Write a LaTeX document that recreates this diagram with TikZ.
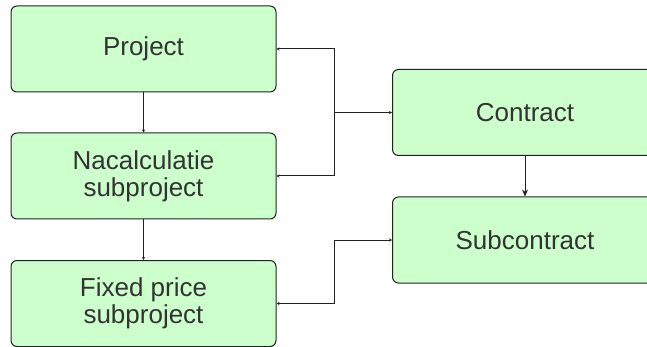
\documentclass[tikz,border=0pt]{standalone}
\usepackage{fontspec}
\setmainfont{Liberation Sans}
\usetikzlibrary{arrows.meta}
\definecolor{boxgreen}{HTML}{CCFFCC}
\definecolor{edge}{HTML}{222222}
\tikzset{
  box/.style={draw=edge, line width=1pt, fill=boxgreen, rounded corners=6pt,
    minimum width=265pt, minimum height=86pt, inner sep=0pt, align=center,
    font=\fontsize{26}{27}\selectfont, text=black!80},
  conn/.style={draw=edge, line width=1pt},
  tip/.style={-{Stealth[length=7pt,width=6pt]}},
  smalltip/.style={-{Stealth[length=3pt,width=3pt]}}
}
\begin{document}
\begin{tikzpicture}[x=1pt,y=-1pt]
\useasboundingbox (0,0) rectangle (647,347);
\begin{scope}
\clip (0,0) rectangle (647,347);
\node[box] (proj) at (143.5,49) {Project};
\node[box] (nac) at (143.5,176) {Nacalculatie\\subproject};
\node[box] (fix) at (143.5,303.5) {Fixed price\\subproject};
\node[box] (con) at (525,112.5) {Contract};
\node[box] (sub) at (525,240) {Subcontract};
\coordinate (j1) at (334,112.5);
\coordinate (j2) at (334,240);
\draw[conn,smalltip] (proj.south) -- (nac.north);
\draw[conn,smalltip] (nac.south) -- (fix.north);
\draw[conn,tip] (con.south) -- (sub.north);
\draw[conn,smalltip] (j1) -- (con.west);
\draw[conn,smalltip] (j1) |- (proj.east);
\draw[conn,smalltip] (j1) |- (nac.east);
\draw[conn,smalltip] (j2) -- (sub.west);
\draw[conn,smalltip] (j2) |- (fix.east);
\end{scope}
\end{tikzpicture}
\end{document}
